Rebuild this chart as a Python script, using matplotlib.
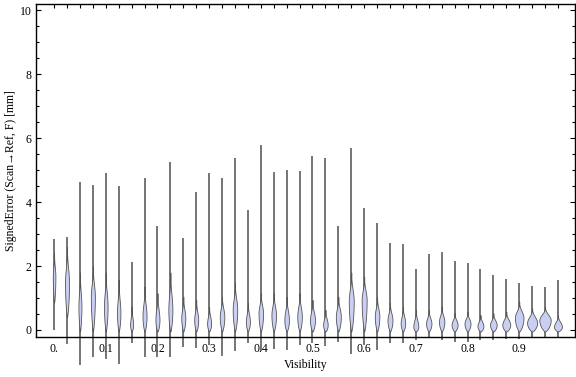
import numpy as np
import matplotlib.pyplot as plt

plt.rcParams['font.family'] = ['Liberation Serif', 'DejaVu Serif']

# visibility bins (one violin per bin)
visibility = [0.0, 0.025, 0.05, 0.075, 0.1, 0.125, 0.15, 0.175, 0.2, 0.225,
              0.25, 0.275, 0.3, 0.325, 0.35, 0.375, 0.4, 0.425, 0.45, 0.475,
              0.5, 0.525, 0.55, 0.575, 0.6, 0.625, 0.65, 0.675, 0.7, 0.725,
              0.75, 0.775, 0.8, 0.825, 0.85, 0.875, 0.9, 0.925, 0.95, 0.975]

# max / min signed error per bin [mm]
err_max = [2.85, 2.90, 4.63, 4.55, 4.91, 4.51, 2.13, 4.76, 3.25, 5.27,
           2.88, 4.32, 4.91, 4.75, 5.38, 3.76, 5.80, 4.93, 5.02, 4.98,
           5.43, 5.37, 3.25, 5.69, 3.83, 3.34, 2.72, 2.70, 1.92, 2.37,
           2.45, 2.17, 2.11, 1.90, 1.72, 1.60, 1.48, 1.37, 1.33, 1.55]
err_min = [0.00, -0.45, -1.10, -0.86, -0.92, -1.07, -0.42, -0.84, -0.86, -0.84,
           -0.54, -0.55, -0.47, -0.82, -0.65, -0.42, -0.65, -0.60, -0.63, -0.47,
           -0.42, -0.50, -0.37, -0.75, -0.47, -0.63, -0.42, -0.42, -0.31, -0.26,
           -0.31, -0.37, -0.39, -0.31, -0.31, -0.28, -0.28, -0.24, -0.23, -0.24]

# bulk of the density: where it is widest, its extent and its half width
dens_peak = [1.67, 1.47, 0.73, 1.04, 0.73, 0.52, 0.16, 0.42, 0.31, 0.63,
             0.37, 0.31, 0.20, 0.42, 0.63, 0.26, 0.52, 0.47, 0.31, 0.42,
             0.31, 0.16, 0.42, 0.90, 0.94, 0.42, 0.31, 0.21, 0.10, 0.20,
             0.26, 0.16, 0.20, 0.12, 0.16, 0.16, 0.38, 0.22, 0.31, 0.10]
dens_top = [2.40, 2.60, 1.80, 2.00, 1.80, 1.57, 0.73, 1.36, 1.15, 1.80,
            1.04, 0.94, 0.73, 1.04, 1.47, 0.84, 1.15, 1.15, 1.04, 1.15,
            0.94, 0.63, 1.04, 1.80, 1.67, 1.04, 0.84, 0.73, 0.63, 0.63,
            0.73, 0.53, 0.57, 0.47, 0.52, 0.57, 0.89, 0.69, 0.73, 0.47]
dens_low = [0.85, 0.40] + [-0.05] * 38
dens_width = [0.0025, 0.0039, 0.0029, 0.0039, 0.0035, 0.0033, 0.0029, 0.0039, 0.0039, 0.0039,
              0.0039, 0.0039, 0.0039, 0.0044, 0.0044, 0.0039, 0.0044, 0.0044, 0.0044, 0.0044,
              0.0048, 0.0044, 0.0048, 0.0048, 0.0048, 0.0044, 0.0048, 0.0044, 0.0048, 0.0052,
              0.0052, 0.0058, 0.0058, 0.0058, 0.0064, 0.0077, 0.0083, 0.0097, 0.0110, 0.0077]

label_pos = [0.0, 0.1, 0.2, 0.3, 0.4, 0.5, 0.6, 0.7, 0.8, 0.9]
label_txt = ['0.', '0.1', '0.2', '0.3', '0.4', '0.5', '0.6', '0.7', '0.8', '0.9']

fig = plt.figure(figsize=(5.76, 3.77), dpi=100)
ax = fig.add_axes([36 / 576, 1 - 337.3 / 377, (575 - 36) / 576, (337.3 - 4) / 377])

for x, hi, lo, pk, tp, lb, w in zip(visibility, err_max, err_min, dens_peak,
                                     dens_top, dens_low, dens_width):
    ax.plot([x, x], [lo, hi], color='#4f4f4f', lw=1.1, solid_capstyle='butt',
            zorder=2, clip_on=False)
    ys = np.linspace(lb, tp, 120)
    hw = np.zeros_like(ys)
    low = ys <= pk
    hw[low] = w * np.sin(0.5 * np.pi * (ys[low] - lb) / (pk - lb)) ** 0.7
    s = (ys[~low] - pk) / (tp - pk)
    hw[~low] = w * (0.5 * (1 + np.cos(np.pi * s))) ** 1.3
    ax.fill_betweenx(ys, x - hw, x + hw, facecolor='#c9cff3', edgecolor='#555555',
                     lw=0.6, zorder=3, clip_on=False)

ax.set_xlim(-0.035, 1.008)
ax.set_ylim(-0.23, 10.2)

ax.set_xticks(label_pos)
ax.set_xticklabels(label_txt)
ax.set_xticks(visibility, minor=True)
ax.xaxis.remove_overlapping_locs = False
ax.tick_params(axis='x', which='major', length=0, pad=4, labelsize=8.5)
ax.tick_params(axis='x', which='minor', bottom=False, top=True, direction='in',
               length=3.2, width=0.8)

ax.set_yticks([0, 2, 4, 6, 8, 10])
ax.set_yticks(np.arange(0, 10.01, 0.5), minor=True)
ax.tick_params(axis='y', which='major', direction='in', right=True, length=3.5,
               width=0.8, pad=3, labelsize=8.5)
ax.tick_params(axis='y', which='minor', direction='in', right=True, length=2,
               width=0.8)

for sp in ax.spines.values():
    sp.set_linewidth(1.0)

ax.set_xlabel('Visibility', fontsize=8.5, labelpad=3)
ax.set_ylabel('SignedError (Scan→Ref, F) [mm]', fontsize=8.5, labelpad=2)

fig.savefig('out.png', dpi=100)
